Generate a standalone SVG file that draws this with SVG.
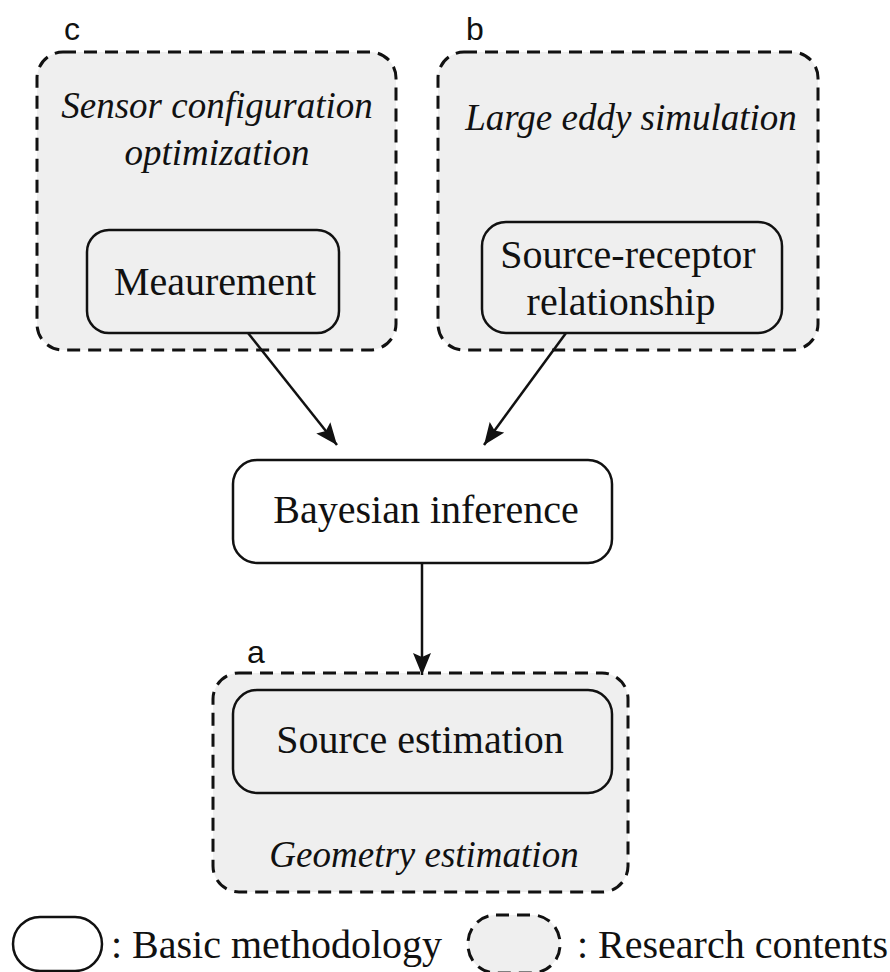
<svg xmlns="http://www.w3.org/2000/svg" width="890" height="972" viewBox="0 0 890 972">
<style>
.research{fill:#efefef;stroke:#111;stroke-width:3;stroke-dasharray:13 8}
.basic{fill:#efefef;stroke:#111;stroke-width:2.5}
.white{fill:#fff;stroke:#111;stroke-width:2.5}
.t{font-family:"Liberation Serif",serif;font-size:40px;fill:#111;text-anchor:middle}
.i{font-family:"Liberation Serif",serif;font-style:italic;font-size:37px;fill:#111;text-anchor:middle}
.lbl{font-family:"Liberation Sans",Arial,sans-serif;font-size:32px;fill:#111}
.lg{font-family:"Liberation Serif",serif;font-size:40px;fill:#111}
.conn{stroke:#111;stroke-width:2.5;fill:none}
</style>
<defs>
<marker id="ah" markerWidth="22" markerHeight="18" refX="22" refY="9" orient="auto" markerUnits="userSpaceOnUse" viewBox="0 0 22 18">
<path d="M0,0 L22,9 L0,18 L4,9 Z" fill="#111"/>
</marker>
</defs>
<g id="group-c">
<rect class="research" x="37" y="52" width="359" height="298" rx="26"/>
<text class="lbl" x="64" y="40">c</text>
<text class="i" x="217" y="118">Sensor configuration</text>
<text class="i" x="217" y="165">optimization</text>
</g>
<g id="node-measurement">
<rect class="basic" x="87" y="230" width="252" height="103" rx="22"/>
<text class="t" x="215" y="295">Meaurement</text>
</g>
<g id="group-b">
<rect class="research" x="438" y="52" width="380" height="298" rx="26"/>
<text class="lbl" x="466" y="40">b</text>
<text class="i" x="631" y="130">Large eddy simulation</text>
</g>
<g id="node-source-receptor">
<rect class="basic" x="482" y="222" width="300" height="111" rx="24"/>
<text class="t" x="628" y="268">Source-receptor</text>
<text class="t" x="621" y="315">relationship</text>
</g>
<g id="node-bayesian">
<rect class="white" x="233" y="460" width="379" height="103" rx="24"/>
<text class="t" x="426" y="523">Bayesian inference</text>
</g>
<g id="group-a">
<rect class="research" x="213" y="673" width="415" height="219" rx="26"/>
<text class="lbl" x="247" y="663">a</text>
<text class="i" x="424" y="867">Geometry estimation</text>
</g>
<g id="node-source-estimation">
<rect class="basic" x="233" y="690" width="379" height="103" rx="24"/>
<text class="t" x="420" y="753">Source estimation</text>
</g>
<g id="connectors">
<line class="conn" x1="248" y1="333" x2="337" y2="445" marker-end="url(#ah)"/>
<line class="conn" x1="566" y1="333" x2="484" y2="445" marker-end="url(#ah)"/>
<line class="conn" x1="422" y1="563" x2="422" y2="675" marker-end="url(#ah)"/>
</g>
<g id="legend">
<rect class="white" x="13" y="917" width="89" height="54" rx="27"/>
<text class="lg" x="111" y="958">: Basic methodology</text>
<rect class="research" x="468" y="915" width="92" height="58" rx="28"/>
<text class="lg" x="577" y="958">: Research contents</text>
</g>
</svg>
